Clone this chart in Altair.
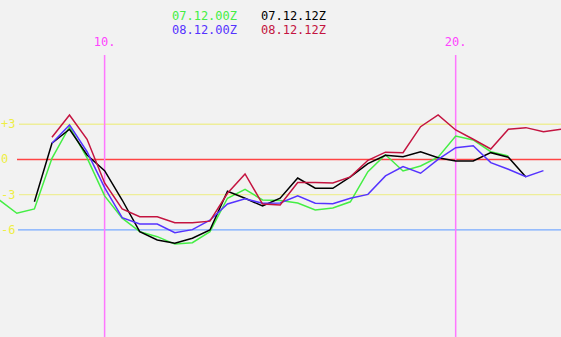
import altair as alt
import pandas as pd

# time axis: days, 12-hour steps
green_t0 = 7.0
green_v = [-3.45, -4.58, -4.21, 0.1, 2.79, 0.13, -3.1, -5.0, -6.14, -6.57,
           -7.2, -7.08, -6.14, -3.3, -2.54, -3.45, -3.5, -3.7, -4.3, -4.13,
           -3.6, -1.04, 0.4, -0.98, -0.55, 0.2, 2.0, 1.66, 0.66, 0.3]
black_t0 = 8.0
black_v = [-3.6, 1.38, 2.57, 0.38, -0.95, -3.45, -6.14, -6.85, -7.13, -6.7,
           -6.0, -2.7, -3.3, -3.96, -3.3, -1.58, -2.45, -2.45, -1.48, -0.35,
           0.35, 0.24, 0.66, 0.15, -0.13, -0.13, 0.58, 0.19, -1.5]
blue_t0 = 8.5
blue_v = [1.38, 2.94, 0.66, -2.4, -4.95, -5.49, -5.49, -6.23, -5.97, -5.17,
          -3.79, -3.35, -3.73, -3.7, -3.1, -3.73, -3.76, -3.3, -2.97, -1.4,
          -0.6, -1.17, 0.0, 1.0, 1.17, -0.27, -0.83, -1.46, -0.95]
red_t0 = 8.5
red_v = [1.89, 3.79, 1.72, -2.0, -4.2, -4.87, -4.87, -5.38, -5.38, -5.25,
         -2.88, -1.23, -3.8, -3.87, -1.97, -1.97, -2.0, -1.48, -0.07, 0.62,
         0.58, 2.79, 3.79, 2.51, 1.72, 0.89, 2.57, 2.71, 2.37, 2.57]

series_names = ["07.12.00Z", "07.12.12Z", "08.12.00Z", "08.12.12Z"]
series_colors = ["#44ee44", "#000000", "#5533ff", "#c41440"]
series_starts = [green_t0, black_t0, blue_t0, red_t0]
series_values = [green_v, black_v, blue_v, red_v]

ref_levels = [3, 0, -3, -6]
ref_labels = ["+3", "0", "-3", "-6"]
ref_keys = ["p3", "z0", "m3", "m6"]
ref_colors = ["#eeee99", "#ff4444", "#eeee99", "#77aaff"]
ref_starts = [19, 17, 19, 18]

day_marks = [10, 20]
day_labels = ["10.", "20."]

rows = []
for name, t0, vals in zip(series_names, series_starts, series_values):
    for i, v in enumerate(vals):
        rows.append({"series": name, "t": t0 + 0.5 * i, "v": v})
df = pd.DataFrame(rows)

W, H = 561, 337
xs = alt.Scale(domain=[7.02, 23.0])
ys = alt.Scale(domain=[-15.11, 13.574])

layers = []

# horizontal reference lines (one layer, colour by key)
ref_df = pd.DataFrame({"lev": ref_levels, "key": ref_keys, "x0": ref_starts})
layers.append(
    alt.Chart(ref_df).mark_rule(strokeWidth=1.3).encode(
        y=alt.Y("lev:Q", scale=ys, axis=None),
        x=alt.X("x0:Q", scale=None),
        x2=alt.value(W),
        stroke=alt.Stroke("key:N", scale=alt.Scale(domain=ref_keys, range=ref_colors),
                          legend=None),
    )
)

# level labels
lab_df = pd.DataFrame({"y": ref_levels, "label": ref_labels})
layers.append(
    alt.Chart(lab_df).mark_text(align="left", baseline="middle", font="DejaVu Sans Mono",
                                fontSize=12).encode(
        y=alt.Y("y:Q", scale=ys, axis=None),
        x=alt.value(1),
        text="label:N",
        color=alt.value("#eeee44"),
    )
)

# vertical day lines
day_df = pd.DataFrame({"d": day_marks, "label": day_labels})
layers.append(
    alt.Chart(day_df).mark_rule(strokeWidth=1.5).encode(
        x=alt.X("d:Q", scale=xs, axis=None),
        y=alt.value(55), y2=alt.value(H),
        color=alt.value("#ff77ff"),
    )
)
layers.append(
    alt.Chart(day_df).mark_text(align="center", baseline="middle", font="DejaVu Sans Mono",
                                fontSize=12).encode(
        x=alt.X("d:Q", scale=xs, axis=None),
        y=alt.value(42),
        text="label:N",
        color=alt.value("#ff44ff"),
    )
)

# data lines
layers.append(
    alt.Chart(df).mark_line(strokeWidth=1.5).encode(
        x=alt.X("t:Q", scale=xs, axis=None),
        y=alt.Y("v:Q", scale=ys, axis=None),
        color=alt.Color("series:N", scale=alt.Scale(domain=series_names, range=series_colors),
                        legend=None),
        detail="series:N",
    )
)

# legend text
leg_df = pd.DataFrame({
    "label": series_names,
    "px": [172, 261, 172, 261],
    "py": [16, 16, 30, 30],
})
for i, name in enumerate(series_names):
    layers.append(
        alt.Chart(leg_df[leg_df.label == name]).mark_text(
            align="left", baseline="middle", font="DejaVu Sans Mono", fontSize=12).encode(
            x=alt.value(int(leg_df.px[i])), y=alt.value(int(leg_df.py[i])), text="label:N",
            color=alt.value(series_colors[i]))
    )

chart = alt.layer(*layers).resolve_scale(color="independent", stroke="independent").properties(
    width=W, height=H, padding=0,
    autosize=alt.AutoSizeParams(type="none"),
    background="#f2f2f2",
).configure_view(stroke=None)

chart.save("out.html", embed_options={"renderer": "svg", "actions": False})
